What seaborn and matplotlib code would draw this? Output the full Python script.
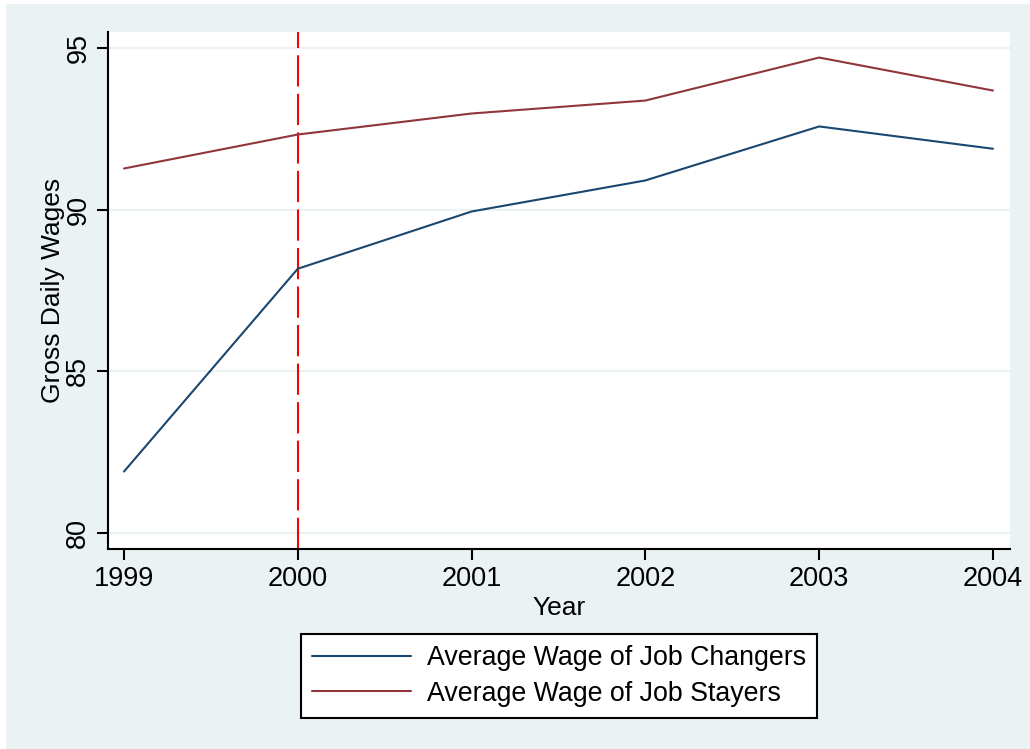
import matplotlib
matplotlib.use("Agg")
import matplotlib.pyplot as plt
import seaborn as sns
import pandas as pd
from matplotlib.patches import Rectangle

years = [1999, 2000, 2001, 2002, 2003, 2004]
changers = [81.9, 88.17, 89.94, 90.9, 92.57, 91.88]
stayers = [91.27, 92.32, 92.97, 93.37, 94.7, 93.68]
series_names = ["Average Wage of Job Changers", "Average Wage of Job Stayers"]
yticks = [80, 85, 90, 95]

df = pd.DataFrame({
    "Year": years * 2,
    "Wage": changers + stayers,
    "Series": [series_names[0]] * len(years) + [series_names[1]] * len(years),
})

sns.set_theme(style="white")
plt.rcParams["font.family"] = ["Liberation Sans", "DejaVu Sans"]
plt.rcParams["text.color"] = "black"
plt.rcParams["axes.labelcolor"] = "black"
plt.rcParams["xtick.color"] = "black"
plt.rcParams["ytick.color"] = "black"

bg = "#EAF2F3"
fig = plt.figure(figsize=(10.3, 7.49), dpi=100, facecolor="white")
fig.patches.append(Rectangle((6 / 1030, 0), 1, 1 - 4 / 749, transform=fig.transFigure,
                             facecolor=bg, edgecolor="none", zorder=-10))
ax = fig.add_axes([108 / 1030, 1 - 549 / 749, (1010 - 108) / 1030, (549 - 32) / 749])
ax.set_facecolor("white")

palette = {series_names[0]: "#1a476f", series_names[1]: "#90353b"}
sns.lineplot(data=df, x="Year", y="Wage", hue="Series", palette=palette,
             linewidth=1.5, ax=ax, legend=True)

ax.axvline(2000, color="#FF0000", linewidth=1.5, dashes=(15, 3.5), zorder=1)

ax.set_xlim(1998.908, 2004.098)
ax.set_ylim(79.505, 95.49)
ax.set_xticks(years)
ax.set_xticklabels([str(y) for y in years], fontsize=19.5)
ax.set_yticks(yticks)
ax.set_yticklabels([str(t) for t in yticks], fontsize=19.5, rotation=90, va="center")
ax.grid(axis="y", color=bg, linewidth=1.5)
ax.set_axisbelow(True)

for s in ["top", "right"]:
    ax.spines[s].set_visible(False)
for s in ["left", "bottom"]:
    ax.spines[s].set_color("black")
    ax.spines[s].set_linewidth(1.5)

ax.tick_params(axis="both", which="major", length=8, width=1.5, color="black",
               bottom=True, left=True, pad=4, labelcolor="black")

ax.set_xlabel("Year", fontsize=19, labelpad=3, color="black")
ax.set_ylabel("Gross Daily Wages", fontsize=19, labelpad=0, color="black")

handles, labels = ax.get_legend_handles_labels()
ax.legend_.remove()
leg = fig.legend(handles, labels, loc="center", bbox_to_anchor=(559 / 1030, 1 - 676 / 749),
                 fontsize=19.3, frameon=True, fancybox=False, edgecolor="black",
                 facecolor="white", framealpha=1, handlelength=3.7, handletextpad=0.6,
                 labelspacing=0.35, borderpad=0.42, labelcolor="black")
leg.get_frame().set_linewidth(1.5)

fig.savefig("out.png", dpi=100, facecolor=fig.get_facecolor())
